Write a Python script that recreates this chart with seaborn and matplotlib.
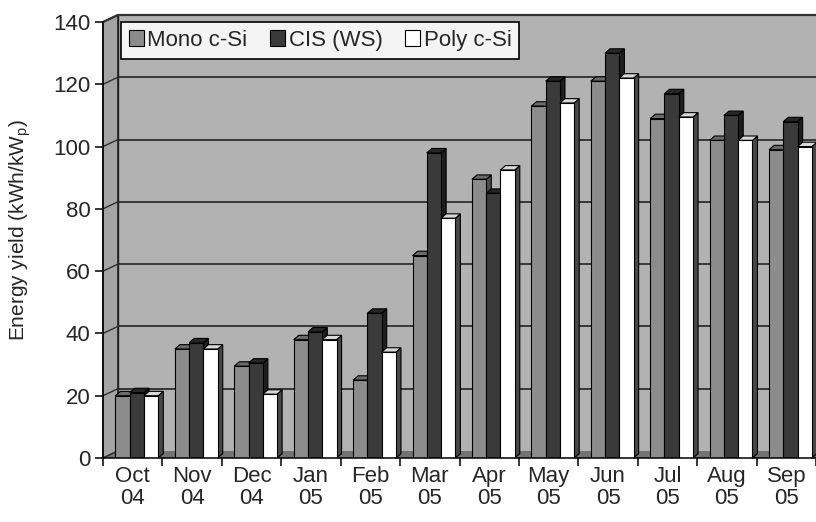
import matplotlib
matplotlib.use("Agg")
import matplotlib.pyplot as plt
from matplotlib.patches import Polygon, Rectangle, Patch
from matplotlib.ticker import FixedLocator
import numpy as np
import pandas as pd
import seaborn as sns

# Monthly energy yield per installed peak power
months = ["Oct\n04", "Nov\n04", "Dec\n04", "Jan\n05", "Feb\n05", "Mar\n05",
          "Apr\n05", "May\n05", "Jun\n05", "Jul\n05", "Aug\n05", "Sep\n05"]
modules = ["Mono c-Si", "CIS (WS)", "Poly c-Si"]
mono = [20, 35, 29.5, 38, 25, 65, 89.5, 113, 121, 109, 102, 99]
cis = [21, 37, 30.5, 40.5, 46.5, 98, 85, 121, 130, 117, 110, 108]
poly = [20, 35, 20.5, 38, 34, 77, 92.5, 114, 122, 109.5, 102, 100]
yticks = [0, 20, 40, 60, 80, 100, 120, 140]

df = pd.DataFrame({"Month": months, modules[0]: mono, modules[1]: cis, modules[2]: poly})
long = df.melt(id_vars="Month", var_name="Module", value_name="Yield")

front_cols = ["#8c8c8c", "#3a3a3a", "#ffffff"]
side_cols = ["#4e4e4e", "#1e1e1e", "#474747"]
top_cols = ["#6a6a6a", "#262626", "#d8d8d8"]

sns.set_theme(style="white")
plt.rcParams["font.family"] = ["Liberation Sans", "DejaVu Sans"]

fig = plt.figure(figsize=(8.16, 5.22), dpi=100)
ax = fig.add_axes([103 / 816, 1 - 458 / 522, 713 / 816, 443 / 522])
ax.set_facecolor("none")

xmin, xmax = -0.5, 11.5
wall_dx, wall_dy = 0.25, 2.25
ytop = 140 + wall_dy
ax.set_xlim(xmin, xmax)
ax.set_ylim(0, ytop)

sns.barplot(data=long, x="Month", y="Yield", hue="Module", palette=front_cols,
            hue_order=modules, order=months, width=0.72, saturation=1,
            edgecolor="black", linewidth=0.8, ax=ax, legend=False)
bars = list(ax.patches)

# back wall, side wall and floor
ax.add_patch(Rectangle((xmin + wall_dx, wall_dy), xmax - xmin, 140,
                       facecolor="#b2b2b2", edgecolor="none", zorder=0.5, clip_on=False))
ax.add_patch(Polygon([(xmin, 0), (xmin + wall_dx, wall_dy), (xmin + wall_dx, ytop), (xmin, 140)],
                     closed=True, facecolor="#a4a4a4", edgecolor="#222222", lw=1.0,
                     zorder=0.6, clip_on=False))
ax.add_patch(Polygon([(xmin, 0), (xmax, 0), (xmax, wall_dy), (xmin + wall_dx, wall_dy)],
                     closed=True, facecolor="#737373", edgecolor="none", zorder=0.7, clip_on=False))
for v in yticks[1:]:
    ax.plot([xmin + wall_dx, xmax], [v + wall_dy, v + wall_dy], color="#2e2e2e",
            lw=1.3, zorder=0.8, clip_on=False, solid_capstyle="butt")
for v in yticks:
    ax.plot([xmin, xmin + wall_dx], [v, v + wall_dy], color="#2e2e2e", lw=1.0,
            zorder=0.8, clip_on=False)
ax.plot([xmin + wall_dx, xmin + wall_dx], [wall_dy, ytop], color="#222222", lw=1.0,
        zorder=0.8, clip_on=False)
ax.plot([xmin, xmin + wall_dx, xmax], [140, ytop, ytop], color="#333333", lw=1.6,
        zorder=0.85, clip_on=False)

# extruded bar faces, drawn left to right so each front covers its neighbour's side;
# the bars sit at mid-depth, a little to the right of the front-plane ticks
shift = 0.07
bdx, bdy = 0.085, 1.4
n = len(months)
order = sorted(range(len(bars)), key=lambda k: bars[k].get_x())
for rank, k in enumerate(order):
    b = bars[k]
    hue_idx = k // n
    b.set_x(b.get_x() + shift)
    x0, w, h = b.get_x(), b.get_width(), b.get_height()
    z = 3 + rank * 0.01
    b.set_zorder(z + 0.005)
    ax.add_patch(Polygon([(x0 + w, 0), (x0 + w + bdx, bdy), (x0 + w + bdx, h + bdy), (x0 + w, h)],
                         closed=True, facecolor=side_cols[hue_idx], edgecolor="black",
                         lw=0.8, zorder=z, clip_on=False))
    ax.add_patch(Polygon([(x0, h), (x0 + bdx, h + bdy), (x0 + w + bdx, h + bdy), (x0 + w, h)],
                         closed=True, facecolor=top_cols[hue_idx], edgecolor="black",
                         lw=0.8, zorder=z, clip_on=False))

# axes
for s in ["top", "right"]:
    ax.spines[s].set_visible(False)
ax.spines["left"].set_bounds(0, 140)
ax.spines["left"].set_zorder(5)
ax.spines["bottom"].set_zorder(5)
for s in ["left", "bottom"]:
    ax.spines[s].set_color("black")
    ax.spines[s].set_linewidth(1.1)

ax.set_yticks(yticks)
ax.set_yticklabels([str(v) for v in yticks], fontsize=16)
ax.tick_params(axis="y", length=6, width=1.1, color="black", pad=3, left=True)
ax.set_xticks(range(n))
ax.set_xticklabels(months, fontsize=16, linespacing=1.05)
ax.tick_params(axis="x", which="major", length=0, pad=6)
ax.xaxis.set_minor_locator(FixedLocator(np.arange(-0.5, n, 1.0)))
ax.tick_params(axis="x", which="minor", length=6, width=1.1, color="black", bottom=True)
ax.set_xlabel("")
ax.set_ylabel("")
fig.text(20 / 816, 1 - 230 / 522, "Energy yield (kWh/kW$_\\mathregular{p}$)", fontsize=15,
         rotation=90, ha="center", va="center")

handles = [Patch(facecolor=c, edgecolor="black", lw=0.8) for c in front_cols]
leg = ax.legend(handles, modules, loc="upper left", bbox_to_anchor=(0.025, 0.984),
                ncol=3, fontsize=16, frameon=True, fancybox=False, framealpha=1,
                facecolor="#f4f4f4", edgecolor="black", handlelength=0.7,
                handleheight=0.7, handletextpad=0.15, columnspacing=1.0,
                borderpad=0.35, borderaxespad=0)
leg.get_frame().set_linewidth(1.2)
leg.set_zorder(10)

fig.savefig("out.png", dpi=100)
